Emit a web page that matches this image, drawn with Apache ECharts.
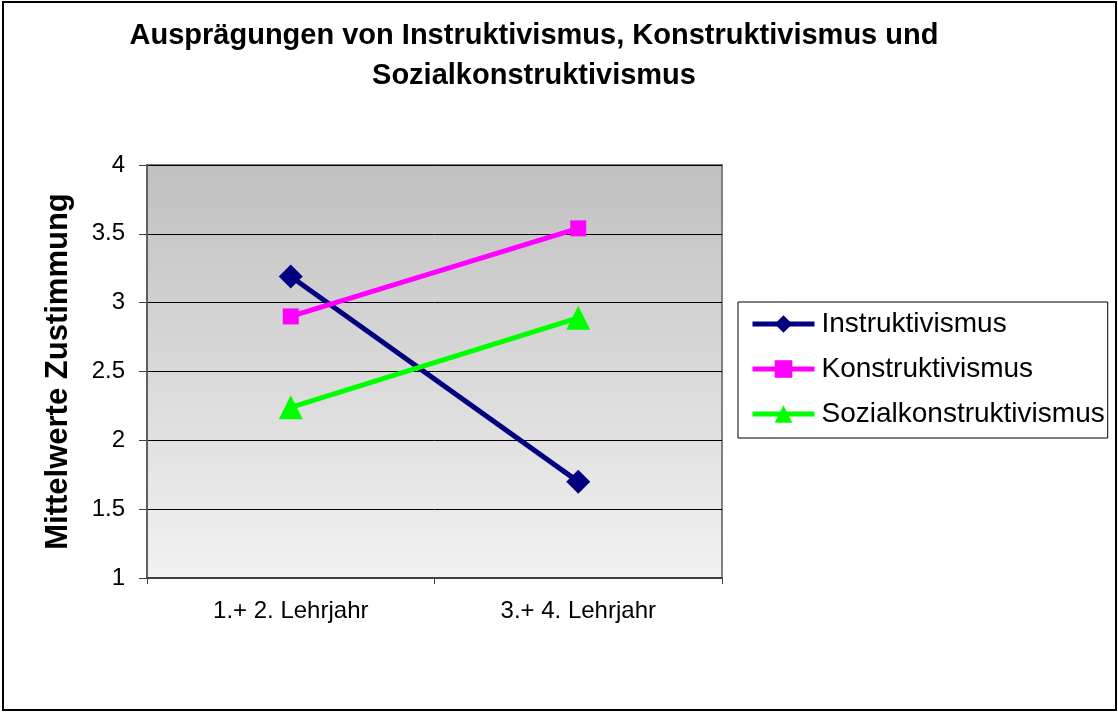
<!DOCTYPE html>
<html>
<head>
<meta charset="utf-8">
<script src="https://cdn.jsdelivr.net/npm/echarts@6/dist/echarts.min.js"></script>
<style>
  html, body { margin: 0; padding: 0; background: #fff; }
  #main { width: 1118px; height: 713px; }
</style>
</head>
<body>
<div id="main"></div>
<script>
// Kategorien und Mittelwerte
var categories = ['1.+ 2. Lehrjahr', '3.+ 4. Lehrjahr'];
var instruktivismus = [3.19, 1.70];
var konstruktivismus = [2.90, 3.54];
var sozialkonstruktivismus = [2.24, 2.89];

var font = '"Liberation Sans", Arial, sans-serif';

var chart = echarts.init(document.getElementById('main'));

var option = {
    backgroundColor: '#fff',
    animation: false,
    textStyle: { fontFamily: font },
    title: {
        text: 'Ausprägungen von Instruktivismus, Konstruktivismus und\nSozialkonstruktivismus',
        left: 529,
        top: 11,
        textAlign: 'center',
        textStyle: {
            fontFamily: font,
            fontSize: 29,
            fontWeight: 'bold',
            color: '#000',
            lineHeight: 40
        }
    },
    graphic: [{
        type: 'rect',
        shape: { x: 3, y: 2, width: 1113, height: 708 },
        style: { fill: 'none', stroke: '#000', lineWidth: 2 },
        silent: true
    }],
    legend: {
        orient: 'vertical',
        left: 738,
        top: 302,
        padding: [8, 3, 10, 12],
        itemGap: 17,
        itemWidth: 62,
        itemHeight: 22,
        backgroundColor: '#fff',
        borderColor: '#000',
        borderWidth: 1,
        lineStyle: { width: 5 },
        textStyle: { fontFamily: font, fontSize: 28, color: '#000', lineHeight: 28, padding: [0, 0, 0, 2] },
        data: ['Instruktivismus', 'Konstruktivismus', 'Sozialkonstruktivismus']
    },
    grid: {
        left: 147,
        top: 165,
        right: 396,
        bottom: 135,
        show: true,
        borderColor: '#808080',
        borderWidth: 2,
        backgroundColor: {
            type: 'linear', x: 0, y: 0, x2: 0, y2: 1,
            colorStops: [
                { offset: 0, color: '#c0c0c0' },
                { offset: 1, color: '#f2f2f2' }
            ]
        }
    },
    xAxis: {
        type: 'category',
        data: categories,
        boundaryGap: true,
        axisLine: { show: true, lineStyle: { color: '#404040', width: 2 } },
        axisTick: { show: true, alignWithLabel: false, length: 6, lineStyle: { color: '#404040' } },
        axisLabel: { fontFamily: font, fontSize: 24, color: '#000', margin: 21 },
        splitLine: { show: false }
    },
    yAxis: {
        type: 'value',
        min: 1,
        max: 4,
        interval: 0.5,
        name: 'Mittelwerte Zustimmung',
        nameLocation: 'middle',
        nameGap: 73,
        nameTextStyle: { fontFamily: font, fontSize: 31, fontWeight: 'bold', color: '#000' },
        axisLine: { show: true, lineStyle: { color: '#606060', width: 2 } },
        axisTick: { show: true, length: 8, lineStyle: { color: '#404040' } },
        axisLabel: { fontFamily: font, fontSize: 24, color: '#000', margin: 22 },
        splitLine: { show: true, lineStyle: { color: '#000', width: 1 } }
    },
    series: [
        {
            name: 'Instruktivismus',
            type: 'line',
            data: instruktivismus,
            symbol: 'diamond',
            symbolSize: 24,
            itemStyle: { color: '#000080' },
            lineStyle: { color: '#000080', width: 5 }
        },
        {
            name: 'Konstruktivismus',
            type: 'line',
            data: konstruktivismus,
            symbol: 'rect',
            symbolSize: 16,
            itemStyle: { color: '#ff00ff' },
            lineStyle: { color: '#ff00ff', width: 5 }
        },
        {
            name: 'Sozialkonstruktivismus',
            type: 'line',
            data: sozialkonstruktivismus,
            symbol: 'triangle',
            symbolSize: 24,
            itemStyle: { color: '#00ff00' },
            lineStyle: { color: '#00ff00', width: 5 }
        }
    ]
};

chart.setOption(option);
</script>
</body>
</html>
